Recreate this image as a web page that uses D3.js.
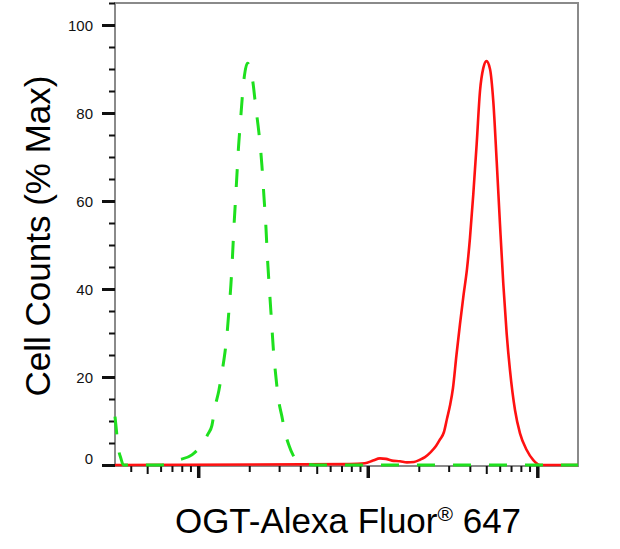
<!DOCTYPE html>
<html>
<head>
<meta charset="utf-8">
<script src="https://cdn.jsdelivr.net/npm/d3@7"></script>
<style>
  body { margin: 0; background: #fff; }
  text { font-family: Arial, "Liberation Sans", sans-serif; }
</style>
</head>
<body>
<div id="container"></div>
<script>
// isotype control (green dashed) - fluorescence intensity vs % max
var isoFluor  = [323, 330, 336, 350, 362, 395, 594, 681, 749, 918, 1066, 1141, 1205, 1254, 1325, 1380, 1437, 1477, 1517, 1559, 1591, 1624, 1658, 1692, 1727, 1774, 1823, 1873, 1951, 2018, 2102, 2190, 2281, 2376, 2442, 2509, 2561, 2630, 2703, 2778, 2873, 2972, 3118, 3247, 3428, 3621, 3875, 4262, 4881, 173800];
var isoCounts = [11, 7.5, 4.5, 1.5, 0, 0, 0, 0.3, 1.0, 2.3, 5, 7, 9, 13, 17, 21, 25.5, 29.5, 35, 41, 47, 54, 60, 66, 72, 78, 84, 88.5, 91.3, 90.5, 87, 81, 75.5, 68, 61, 54, 47, 40, 33, 26, 20, 15, 11, 7.5, 4.5, 2.3, 1.0, 0.3, 0, 0];

// OGT stained (red solid)
var ogtFluor  = [323, 7852, 9627, 10733, 11803, 12806, 13892, 15488, 17032, 18733, 20322, 21750, 23600, 25260, 26670, 28150, 29330, 30550, 31820, 33360, 34990, 36690, 38480, 40090, 41920, 43900, 45920, 48020, 50150, 52600, 55000, 57610, 60250, 63010, 65990, 69020, 73860, 79070, 86590, 94710, 103730, 173800];
var ogtCounts = [0, 0.2, 0.4, 1.0, 1.5, 1.4, 1.0, 0.85, 0.6, 0.7, 1.2, 1.8, 3.0, 4.3, 5.8, 7.5, 10.5, 13.5, 17.5, 25, 32, 38.5, 44.5, 51.7, 61.5, 73, 85, 90.2, 91.8, 90, 82.7, 69, 54.7, 41.2, 29.8, 21.5, 12.5, 7.2, 3.4, 1.1, 0, 0];

var yMajor = [0, 20, 40, 60, 80, 100];
var yMinor = [5, 10, 15, 25, 30, 35, 45, 50, 55, 65, 70, 75, 85, 90, 95, 105];
var xMajor = [1e3, 1e4, 1e5];
var xMid   = [500, 5000, 50000];
var xMinor = [400, 600, 700, 800, 900, 2000, 3000, 4000, 6000, 7000, 8000, 9000,
              20000, 30000, 40000, 60000, 70000, 80000, 90000];

(function() {
  var W = 620, H = 549;
  var L = 115, R = 578, T = 3, B = 465;

  var svg = d3.select('#container').append('svg')
    .attr('width', W).attr('height', H);

  var x = d3.scaleLog().domain([323, 173800]).range([L, R]);
  var y = d3.scaleLinear().domain([0, 105]).range([B, T]);

  // frame
  svg.append('rect')
    .attr('x', L).attr('y', T)
    .attr('width', R - L).attr('height', B - T + 1)
    .attr('fill', 'none')
    .attr('stroke', '#8a8a8a')
    .attr('stroke-width', 2);

  function tickAxis(gen, vals, size, width, tx, ty) {
    var g = svg.append('g')
      .attr('transform', 'translate(' + tx + ',' + ty + ')')
      .call(gen.tickValues(vals).tickSize(size).tickFormat(''));
    g.select('.domain').remove();
    g.selectAll('.tick line').attr('stroke', '#111').attr('stroke-width', width);
    return g;
  }

  // x ticks
  tickAxis(d3.axisBottom(x), xMinor, 6, 2, 0, B + 1);
  tickAxis(d3.axisBottom(x), xMid, 8, 2, 0, B + 1);
  tickAxis(d3.axisBottom(x), xMajor, 12, 3.5, 0, B + 1);

  // y ticks
  tickAxis(d3.axisLeft(y), yMinor, 6, 2, L, 0);
  var ym = svg.append('g')
    .attr('transform', 'translate(' + L + ',0)')
    .call(d3.axisLeft(y).tickValues(yMajor).tickSize(13).tickPadding(9));
  ym.select('.domain').remove();
  ym.selectAll('.tick line').attr('stroke', '#111').attr('stroke-width', 3);
  ym.selectAll('.tick text')
    .attr('fill', '#111')
    .style('font-size', '15px')
    .attr('dy', function(d) { return d === 0 ? '-0.12em' : '0.34em'; });

  var line = d3.line()
    .x(function(d) { return x(d[0]); })
    .y(function(d) { return y(d[1]); })
    .curve(d3.curveMonotoneX);

  svg.append('path')
    .datum(d3.zip(ogtFluor, ogtCounts))
    .attr('d', line)
    .attr('fill', 'none')
    .attr('stroke', '#ff1111')
    .attr('stroke-width', 2.6);

  svg.append('path')
    .datum(d3.zip(isoFluor, isoCounts))
    .attr('d', line)
    .attr('fill', 'none')
    .attr('stroke', '#1ee01e')
    .attr('stroke-width', 3)
    .attr('stroke-dasharray', '18,18');

  // titles
  svg.append('text')
    .attr('transform', 'translate(50,236) rotate(-90)')
    .attr('text-anchor', 'middle')
    .style('font-size', '35px')
    .attr('fill', '#000')
    .text('Cell Counts (% Max)');

  var xt = svg.append('text')
    .attr('x', 348).attr('y', 533)
    .attr('text-anchor', 'middle')
    .style('font-size', '35px')
    .attr('fill', '#000');
  xt.append('tspan').text('OGT-Alexa Fluor');
  xt.append('tspan').attr('dy', -12).style('font-size', '21px').text('\u00AE');
  xt.append('tspan').attr('dy', 12).text(' 647');
})();
</script>
</body>
</html>
